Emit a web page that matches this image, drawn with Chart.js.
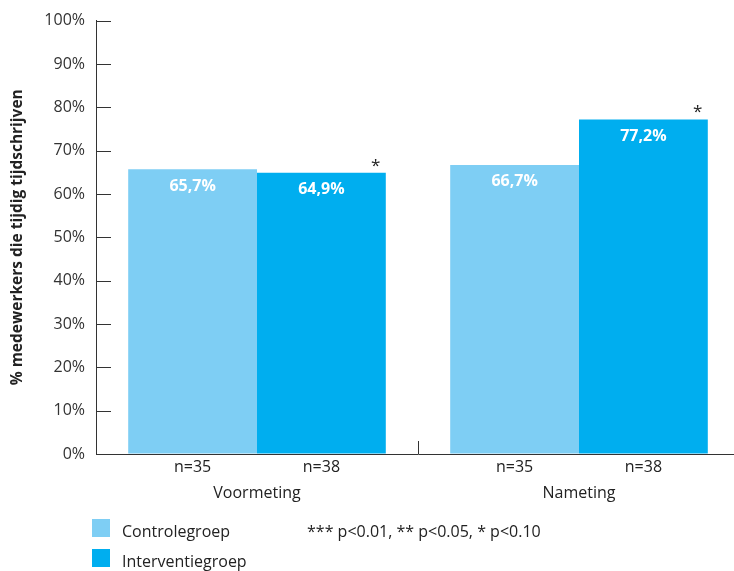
<!DOCTYPE html>
<html>
<head>
<meta charset="utf-8">
<script src="https://cdn.jsdelivr.net/npm/chart.js@4.4.1/dist/chart.umd.min.js"></script>
<style>
  html, body { margin: 0; padding: 0; background: #fff; overflow: hidden; }
  #wrap { position: relative; width: 740px; height: 571px; }
  #legend { position: absolute; left: 0; top: 0; width: 740px; height: 571px; pointer-events: none;
            font-family: "Open Sans", sans-serif; font-size: 16px; color: #222; }
  .sw { position: absolute; width: 18px; height: 18px; }
  .lt { position: absolute; line-height: 20px; }
</style>
</head>
<body>
<div id="wrap">
  <canvas id="js-chart-tijdschrijven" width="740" height="571"></canvas>
  <div id="legend"></div>
</div>
<script>
// Data
const categories = ['Voormeting', 'Nameting'];
const seriesNames = ['Controlegroep', 'Interventiegroep'];
const controlValues = [65.7, 66.7];
const interventionValues = [64.9, 77.2];
const controlN = ['n=35', 'n=35'];
const interventionN = ['n=38', 'n=38'];
const controlSig = ['', ''];
const interventionSig = ['*', '*'];
const yTicks = [0, 10, 20, 30, 40, 50, 60, 70, 80, 90, 100];
const sigNote = '*** p<0.01, ** p<0.05, * p<0.10';

const colLight = '#7ecef4';
const colDark = '#00aeef';
const fontFam = '"Open Sans", sans-serif';

// Chart container
let chartCon = document.getElementById('js-chart-tijdschrijven');

// Draws inward tick marks, n= labels, values and asterisks
const extrasPlugin = {
  id: 'extras',
  afterDatasetsDraw(chart) {
    const ctx = chart.ctx;
    const x = chart.scales.x, y = chart.scales.y;
    const area = chart.chartArea;
    const nLabels = [controlN, interventionN];
    const sigs = [controlSig, interventionSig];
    ctx.save();

    // y ticks pointing into the plot
    ctx.strokeStyle = '#333';
    ctx.lineWidth = 1;
    yTicks.forEach(v => {
      const py = Math.round(y.getPixelForValue(v)) + 0.5;
      ctx.beginPath();
      ctx.moveTo(area.left, py);
      ctx.lineTo(area.left + 15, py);
      ctx.stroke();
    });

    // x tick between the categories
    for (let i = 1; i < categories.length; i++) {
      const px = Math.round((x.getPixelForValue(i - 1) + x.getPixelForValue(i)) / 2) + 0.5;
      ctx.beginPath();
      ctx.moveTo(px, area.bottom);
      ctx.lineTo(px, area.bottom - 13);
      ctx.stroke();
    }

    chart.data.datasets.forEach((ds, di) => {
      const meta = chart.getDatasetMeta(di);
      meta.data.forEach((bar, i) => {
        // value inside the bar
        ctx.fillStyle = '#fff';
        ctx.font = 'bold 16px ' + fontFam;
        ctx.textAlign = 'center';
        ctx.textBaseline = 'middle';
        ctx.fillText(ds.data[i].toFixed(1).replace('.', ',') + '%', bar.x, bar.y + 17);

        // n= under the bar
        ctx.fillStyle = '#222';
        ctx.font = '16px ' + fontFam;
        ctx.fillText(nLabels[di][i], bar.x, area.bottom + 13);

        // significance mark
        if (sigs[di][i]) {
          ctx.font = '17px ' + fontFam;
          ctx.fillText(sigs[di][i], bar.x + bar.width / 2 - 10, bar.y - 7);
        }
      });
    });
    ctx.restore();
  }
};

let chartData = {
  labels: categories,
  datasets: [
    { label: seriesNames[0], backgroundColor: colLight, data: controlValues },
    { label: seriesNames[1], backgroundColor: colDark, data: interventionValues }
  ]
};

let chart = new Chart(chartCon, {
  type: 'bar',
  data: chartData,
  plugins: [extrasPlugin],
  options: {
    responsive: false,
    animation: false,
    layout: { padding: { top: 20, right: 0, bottom: 0, left: 0 } },
    datasets: { bar: { categoryPercentage: 0.8, barPercentage: 1.0 } },
    plugins: { legend: { display: false }, tooltip: { enabled: false } },
    scales: {
      x: {
        grid: { drawOnChartArea: false, drawTicks: false },
        border: { display: true, color: '#333', width: 1 },
        ticks: { color: '#222', font: { family: fontFam, size: 16 }, padding: 30 },
        afterFit(scale) { scale.height = 117; }
      },
      y: {
        min: 0,
        max: 100,
        afterBuildTicks(scale) { scale.ticks = yTicks.map(v => ({ value: v })); },
        grid: { drawOnChartArea: false, drawTicks: false },
        border: { display: true, color: '#333', width: 1 },
        ticks: {
          color: '#333',
          font: { family: fontFam, size: 16 },
          padding: 11,
          callback: v => v + '%'
        },
        title: {
          display: true,
          text: '% medewerkers die tijdig tijdschrijven',
          color: '#222',
          font: { family: fontFam, size: 15.5, weight: 'bold' },
          padding: { top: 8, bottom: 0 }
        },
        afterFit(scale) { scale.width = 96; }
      }
    }
  }
});

// Legend built from the chart's datasets
let legendCon = document.getElementById('legend');
chart.data.datasets.forEach((ds, i) => {
  const top = 519 + i * 30;
  const sw = document.createElement('div');
  sw.className = 'sw';
  sw.style.left = '92px';
  sw.style.top = top + 'px';
  sw.style.background = ds.backgroundColor;
  legendCon.appendChild(sw);
  const lt = document.createElement('div');
  lt.className = 'lt';
  lt.style.left = '122px';
  lt.style.top = (top + 2) + 'px';
  lt.textContent = ds.label;
  legendCon.appendChild(lt);
});
let note = document.createElement('div');
note.className = 'lt';
note.style.left = '307px';
note.style.top = '521px';
note.textContent = sigNote;
legendCon.appendChild(note);
</script>
</body>
</html>
